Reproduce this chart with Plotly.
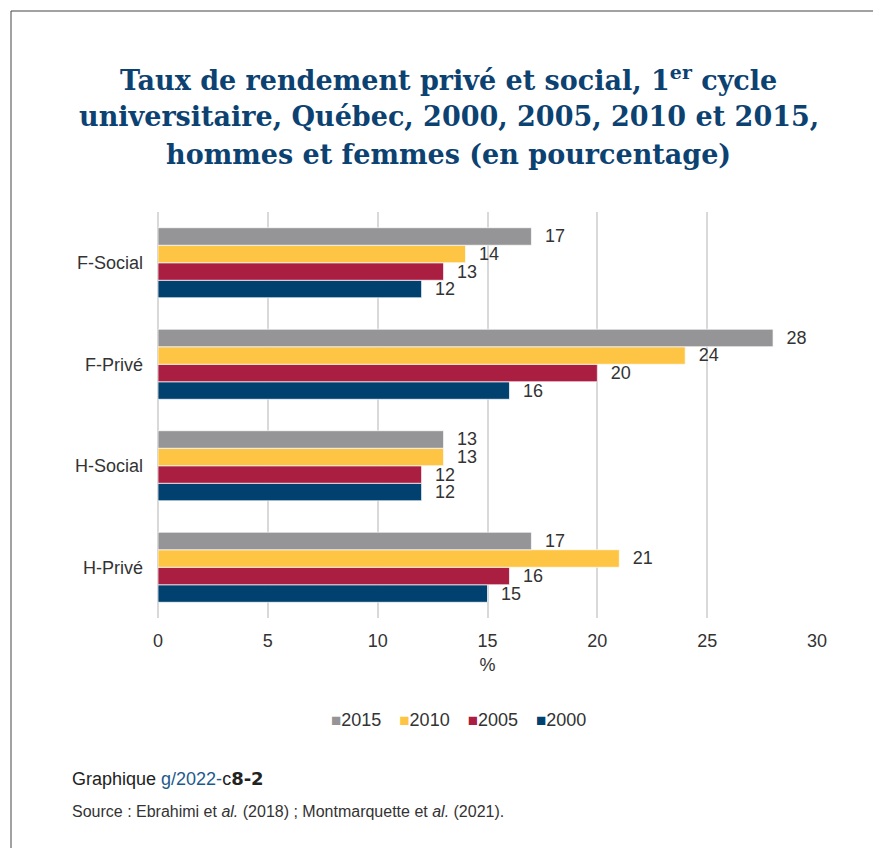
import plotly.graph_objects as go

categories = ["F-Social", "F-Privé", "H-Social", "H-Privé"]
years = ["2000", "2005", "2010", "2015"]
values_2000 = [12, 16, 12, 15]
values_2005 = [13, 20, 12, 16]
values_2010 = [14, 24, 13, 21]
values_2015 = [17, 28, 13, 17]
series = {"2000": values_2000, "2005": values_2005, "2010": values_2010, "2015": values_2015}
colors = {"2000": "#01416f", "2005": "#a91e41", "2010": "#fdc543", "2015": "#959598"}
x_ticks = [0, 5, 10, 15, 20, 25, 30]
legend_order = ["2015", "2010", "2005", "2000"]

FONT = "Liberation Sans, Arial, sans-serif"
W, H = 865, 840
ML, MR, MT, MB = 150, 56, 204, 230
PW, PH = W - ML - MR, H - MT - MB

def px(xf):
    return (xf - ML) / PW

def py(yf):
    return (H - MB - yf) / PH

fig = go.Figure()
for yr in years:
    fig.add_trace(go.Bar(
        y=categories, x=series[yr], name=yr, orientation="h",
        marker=dict(color=colors[yr], line=dict(color="rgba(255,255,255,0.7)", width=1)),
        text=series[yr], texttemplate="\u2002\u200a%{x}", textposition="outside",
        constraintext="none",
        textfont=dict(family=FONT, size=18, color="#333333"),
        cliponaxis=False, hoverinfo="x+y+name", showlegend=False,
    ))

fig.update_layout(
    width=W, height=H,
    margin=dict(l=ML, r=MR, t=MT, b=MB, autoexpand=False),
    paper_bgcolor="white", plot_bgcolor="white",
    barmode="group", bargap=0.31, bargroupgap=0,
    font=dict(family=FONT, size=18, color="#333333"),
    showlegend=False,
    xaxis=dict(range=[0, 30], tickvals=x_ticks, showgrid=True, gridcolor="#d9d9d9", gridwidth=1.5,
               zeroline=True, zerolinecolor="#d9d9d9", zerolinewidth=1.5, showline=False,
               tickfont=dict(family=FONT, size=18, color="#333333"), ticks="", ticklabelstandoff=10,
               title=dict(text="%", font=dict(family=FONT, size=18, color="#333333"), standoff=8),
               fixedrange=True),
    yaxis=dict(categoryorder="array", categoryarray=categories[::-1], showgrid=False,
               showline=False, zeroline=False, ticks="", ticklabelstandoff=14,
               tickfont=dict(family=FONT, size=18, color="#333333"), fixedrange=True),
)

# legend (compact, like the reference)
legend_text = "\u2003".join(
    f"<span style='color:{colors[yr]};font-size:17px'>\u25A0</span>{yr}" for yr in legend_order
)
fig.add_annotation(text=legend_text, xref="paper", yref="paper", x=px(450), y=py(712),
                   xanchor="center", yanchor="middle", showarrow=False,
                   font=dict(family=FONT, size=18, color="#333333"))

TFONT = dict(family="DejaVu Serif, serif", size=27, color="#0c4271")
title_lines = [
    "<b>Taux de rendement privé et social, 1<sup>er</sup> cycle</b>",
    "<b>universitaire, Québec, 2000, 2005, 2010 et 2015,</b>",
    "<b>hommes et femmes (en pourcentage)</b>",
]
for line, yc in zip(title_lines, [70, 109, 147]):
    fig.add_annotation(text=line, xref="paper", yref="paper", x=px(W / 2 + 8), y=py(yc),
                       xanchor="center", yanchor="middle", showarrow=False, font=TFONT)

fig.add_annotation(
    text="Graphique <span style='color:#1d5a8c'>g/2022-</span>c<span style='font-family:DejaVu Sans'><b>8-2</b></span>",
    xref="paper", yref="paper", x=px(62), y=py(770), xanchor="left", yanchor="middle",
    showarrow=False, font=dict(family=FONT, size=18, color="#222222"))
fig.add_annotation(
    text="Source : Ebrahimi et <i>al.</i> (2018) ; Montmarquette et <i>al.</i> (2021).",
    xref="paper", yref="paper", x=px(62), y=py(803), xanchor="left", yanchor="middle",
    showarrow=False, font=dict(family=FONT, size=16, color="#333333"))

# page frame (top and left edges visible)
fig.add_shape(type="line", xref="paper", yref="paper", x0=px(3), x1=px(W + 40), y0=py(3), y1=py(3),
              line=dict(color="#444444", width=1))
fig.add_shape(type="line", xref="paper", yref="paper", x0=px(3), x1=px(3), y0=py(3), y1=py(H + 40),
              line=dict(color="#444444", width=1))

fig.write_html("out.html", config={"displayModeBar": False})
